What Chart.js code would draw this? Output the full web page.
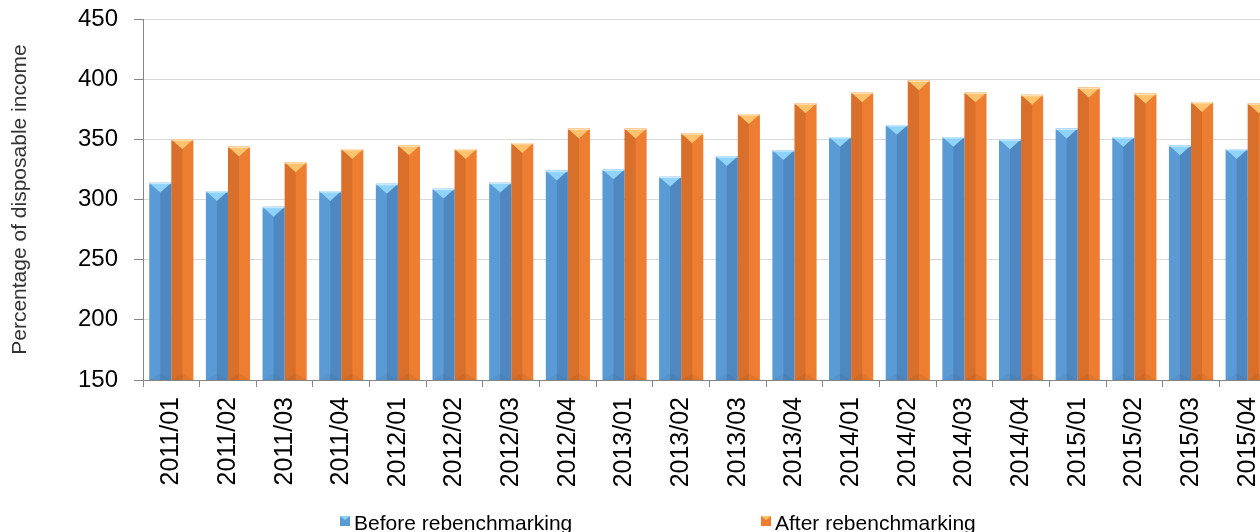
<!DOCTYPE html>
<html>
<head>
<meta charset="utf-8">
<script src="https://cdn.jsdelivr.net/npm/chart.js@4.4.1/dist/chart.umd.min.js"></script>
<style>
  html, body { margin: 0; padding: 0; background: #fff; overflow: hidden; }
  #wrap { position: relative; width: 1260px; height: 532px; overflow: hidden; }
  #box { position: absolute; left: 0; top: 0; width: 1276px; height: 532px; }
</style>
</head>
<body>
<div id="wrap"><div id="box"><canvas id="chart"></canvas></div></div>
<script>
// quarterly categories
const quarters = [
  '2011/01', '2011/02', '2011/03', '2011/04',
  '2012/01', '2012/02', '2012/03', '2012/04',
  '2013/01', '2013/02', '2013/03', '2013/04',
  '2014/01', '2014/02', '2014/03', '2014/04',
  '2015/01', '2015/02', '2015/03', '2015/04'
];
const beforeValues = [314, 307, 294, 307, 313, 309, 314, 324, 325, 319, 336, 341, 352, 362, 352, 350, 359, 352, 345, 342];
const afterValues  = [350, 344, 331, 342, 345, 342, 347, 359, 359, 355, 371, 380, 389, 399, 389, 387, 393, 388, 381, 380];
const seriesNames = ['Before rebenchmarking', 'After rebenchmarking'];
const yTicks = { min: 150, max: 450, step: 50 };

const FONT = '"Liberation Sans", Arial, sans-serif';
const baseColors = ['#5b9bd5', '#ed7d31'];
const sideShade = ['rgba(20, 40, 90, 0.16)', 'rgba(90, 30, 0, 0.14)'];
const topColors = ['#8fd3fb', '#ffc36d'];

// fake Excel bevel on top of each bar
const bevel = {
  id: 'bevel',
  afterDatasetsDraw(chart) {
    const ctx = chart.ctx;
    const area = chart.chartArea;
    ctx.save();
    ctx.beginPath();
    ctx.rect(area.left, area.top, area.right - area.left, area.bottom - area.top);
    ctx.clip();
    chart.data.datasets.forEach((ds, i) => {
      chart.getDatasetMeta(i).data.forEach(bar => {
        const p = bar.getProps(['x', 'y', 'width'], true);
        const l = p.x - p.width / 2, r = p.x + p.width / 2;
        const t = p.y, b = area.bottom;
        // darker half
        ctx.fillStyle = sideShade[i];
        if (i === 0) ctx.fillRect(p.x, t, r - p.x, b - t);
        else ctx.fillRect(l, t, p.x - l, b - t);
        // bottom bevel
        ctx.beginPath();
        ctx.moveTo(l, b); ctx.lineTo(r, b); ctx.lineTo(p.x, b - p.width * 0.3);
        ctx.closePath();
        ctx.fillStyle = 'rgba(0,0,0,0.05)';
        ctx.fill();
        // top bevel
        const h = p.width * 0.45;
        ctx.beginPath();
        ctx.moveTo(l, t); ctx.lineTo(r, t); ctx.lineTo(p.x, t + h);
        ctx.closePath();
        ctx.fillStyle = topColors[i];
        ctx.fill();
        ctx.fillStyle = 'rgba(255,255,255,0.5)';
        ctx.fillRect(l, t, p.width, 1.5);
      });
    });
    ctx.restore();
  }
};

// Excel-like legend, items spread far apart
const wideLegend = {
  id: 'wideLegend',
  afterDraw(chart) {
    const ctx = chart.ctx;
    const xs = [340, 761];
    const baseline = 530;
    ctx.save();
    ctx.font = '21px ' + FONT;
    ctx.textBaseline = 'alphabetic';
    chart.data.datasets.forEach((ds, i) => {
      const x = xs[i];
      ctx.fillStyle = baseColors[i];
      ctx.fillRect(x, baseline - 14, 10, 10);
      ctx.beginPath();
      ctx.moveTo(x, baseline - 14); ctx.lineTo(x + 10, baseline - 14); ctx.lineTo(x + 5, baseline - 10);
      ctx.closePath();
      ctx.fillStyle = topColors[i];
      ctx.fill();
      ctx.fillStyle = '#000';
      ctx.fillText(ds.label, x + 14, baseline);
    });
    ctx.restore();
  }
};

new Chart(document.getElementById('chart'), {
  type: 'bar',
  data: {
    labels: quarters,
    datasets: [
      { label: seriesNames[0], data: beforeValues, backgroundColor: baseColors[0] },
      { label: seriesNames[1], data: afterValues, backgroundColor: baseColors[1] }
    ]
  },
  options: {
    responsive: true,
    maintainAspectRatio: false,
    animation: false,
    datasets: { bar: { categoryPercentage: 0.78, barPercentage: 1.0 } },
    layout: { padding: { top: 19, right: 0, bottom: 40, left: 0 } },
    plugins: { legend: { display: false }, tooltip: { enabled: false } },
    scales: {
      x: {
        grid: { drawOnChartArea: false, tickLength: 7, color: '#868686', offset: true },
        border: { color: '#868686' },
        ticks: {
          minRotation: 90, maxRotation: 90, padding: 10, autoSkip: false,
          color: '#000', font: { family: FONT, size: 25 }
        },
        afterFit(s) { s.height = 112; s.paddingLeft = 0; s.paddingRight = 0; }
      },
      y: {
        min: yTicks.min, max: yTicks.max,
        grid: { color: '#d9d9d9', tickColor: '#868686', tickLength: 9 },
        border: { color: '#868686' },
        ticks: {
          stepSize: yTicks.step, padding: 16,
          color: '#000', font: { family: FONT, size: 24 }
        },
        title: {
          display: true, text: 'Percentage of disposable income',
          color: '#333', font: { family: FONT, size: 21 }, padding: { top: 8, bottom: 0 }
        },
        afterFit(s) { s.width = 143; s.paddingTop = 0; s.paddingBottom = 0; }
      }
    }
  },
  plugins: [bevel, wideLegend]
});
</script>
</body>
</html>
